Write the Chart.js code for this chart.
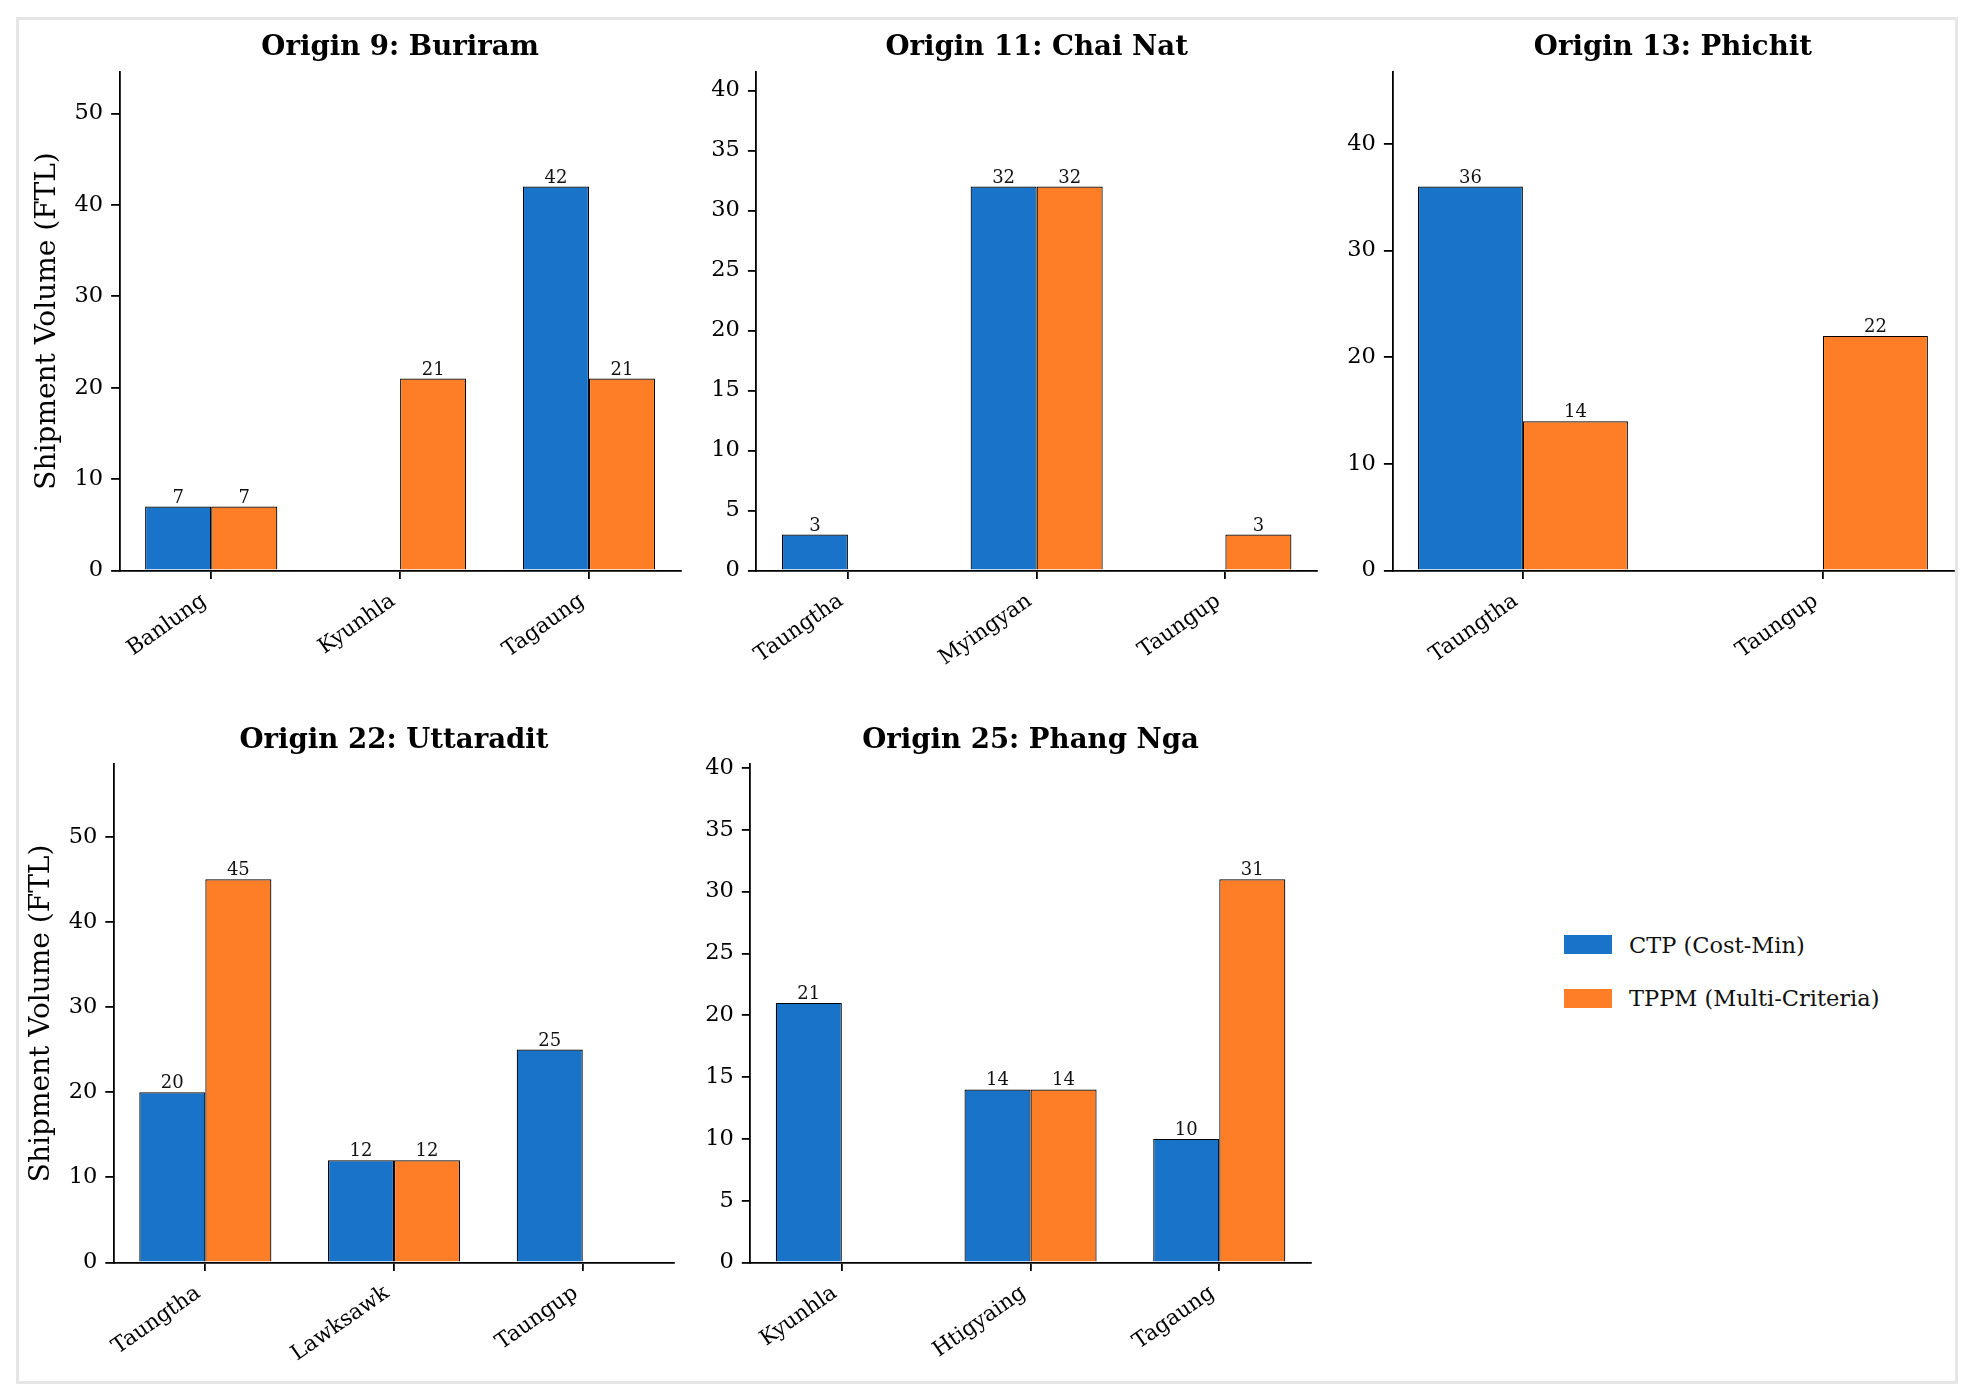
<!DOCTYPE html>
<html>
<head>
<meta charset="utf-8">
<script src="https://cdn.jsdelivr.net/npm/chart.js@4.4.1/dist/chart.umd.min.js"></script>
<style>
  body { margin: 0; background: #fff; }
  #page { position: relative; width: 1972px; height: 1399px; overflow: hidden; background: #fff; }
  #frame { position: absolute; left: 15.5px; top: 16.5px; width: 1942px; height: 1367px;
           border: 3.3px solid #e6e6e6; box-sizing: border-box; }
  canvas { position: absolute; }
  .leg { position: absolute; left: 1564.4px; height: 24px; display: flex; align-items: center;
         font: 22.5px 'DejaVu Serif', serif; color: #111; white-space: nowrap; }
  .leg .sw { display: inline-block; width: 48px; height: 19px; margin-right: 16.6px; }
</style>
</head>
<body>
<div id="page">
  <div id="frame"></div>
</div>
<script>
// Datos de cada origen
const panelTitles = ['Origin 9: Buriram', 'Origin 11: Chai Nat', 'Origin 13: Phichit',
                     'Origin 22: Uttaradit', 'Origin 25: Phang Nga'];
const destinations = [
  ['Banlung', 'Kyunhla', 'Tagaung'],
  ['Taungtha', 'Myingyan', 'Taungup'],
  ['Taungtha', 'Taungup'],
  ['Taungtha', 'Lawksawk', 'Taungup'],
  ['Kyunhla', 'Htigyaing', 'Tagaung']
];
const ctpValues  = [[7, 0, 42], [3, 32, 0], [36, 0], [20, 12, 25], [21, 14, 10]];
const tppmValues = [[7, 21, 21], [0, 32, 3], [14, 22], [45, 12, 0], [0, 14, 31]];
const yTickSteps = [10, 5, 10, 10, 5];
const seriesNames = ['CTP (Cost-Min)', 'TPPM (Multi-Criteria)'];
const seriesColors = ['#1873C9', '#FE7E27'];
const yAxisTitle = 'Shipment Volume (FTL)';

const FONT = "'DejaVu Serif', serif";

// Donde va cada eje en la página
const boxes = [
  { left: 119.6,  top: 71.4,  w: 561,   h: 499.1, yTitle: true },
  { left: 756.4,  top: 71.4,  w: 560.5, h: 499.1 },
  { left: 1392.4, top: 71.4,  w: 561,   h: 499.1 },
  { left: 113.8,  top: 764.3, w: 560.5, h: 498.2, yTitle: true },
  { left: 750.3,  top: 764.3, w: 560.5, h: 498.2 }
];

// Etiquetas encima de las barras (solo las que no son cero)
const valueLabels = {
  id: 'valueLabels',
  afterDatasetsDraw(chart) {
    const ctx = chart.ctx;
    ctx.save();
    ctx.font = '18px ' + FONT;
    ctx.fillStyle = '#111';
    ctx.textAlign = 'center';
    ctx.textBaseline = 'alphabetic';
    chart.data.datasets.forEach((ds, di) => {
      chart.getDatasetMeta(di).data.forEach((bar, i) => {
        const v = ds.data[i].y;
        if (v > 0) ctx.fillText(String(v), bar.x, bar.y - 4);
      });
    });
    ctx.restore();
  }
};

function makePanel(p) {
  const box = boxes[p];
  const cats = destinations[p];
  const n = cats.length;

  const wyWanted = box.yTitle ? 100 : 60;
  const cLeft = Math.round(box.left - wyWanted);
  const wy = box.left - cLeft;
  const cTop = Math.round(box.top - 40);
  const titleSpace = box.top - cTop;
  const cW = Math.round(wy + box.w + 20);
  const cH = Math.round(titleSpace + box.h + 130);
  const padRight = cW - wy - box.w;
  const xAxisH = cH - titleSpace - box.h;

  const canvas = document.createElement('canvas');
  canvas.width = cW;
  canvas.height = cH;
  canvas.style.left = cLeft + 'px';
  canvas.style.top = cTop + 'px';
  canvas.style.width = cW + 'px';
  canvas.style.height = cH + 'px';
  document.getElementById('page').appendChild(canvas);

  // márgenes tipo matplotlib: 5% alrededor de las barras
  const span = (n - 1) + 0.7;
  const xMin = -0.35 - 0.05 * span;
  const xMax = (n - 1) + 0.35 + 0.05 * span;
  const yMax = Math.max(...ctpValues[p], ...tppmValues[p]) * 1.3;

  const series = [ctpValues[p], tppmValues[p]];
  const titleSize = 27.6;

  new Chart(canvas, {
    type: 'bar',
    data: {
      datasets: series.map((vals, s) => ({
        label: seriesNames[s],
        data: vals.map((v, k) => ({ x: k, y: v })),
        backgroundColor: seriesColors[s],
        borderColor: '#000',
        borderWidth: 1.2,
        categoryPercentage: 0.7,
        barPercentage: 1
      }))
    },
    options: {
      responsive: false,
      animation: false,
      layout: { padding: { top: 0, left: 0, right: padRight, bottom: 0 } },
      plugins: {
        legend: { display: false },
        tooltip: { enabled: false },
        title: {
          display: true,
          fullSize: false,
          text: panelTitles[p],
          color: '#000',
          font: { family: FONT, size: titleSize, weight: 'bold', lineHeight: 1.2 },
          padding: { top: 0, bottom: titleSpace - titleSize * 1.2 }
        }
      },
      scales: {
        x: {
          type: 'linear',
          min: xMin,
          max: xMax,
          offset: false,
          grid: { display: true, offset: false, drawOnChartArea: false, drawTicks: true, tickLength: 8.5, color: '#000', lineWidth: 1.8 },
          border: { display: true, color: '#000', width: 1.8 },
          ticks: {
            stepSize: 1,
            includeBounds: false,
            autoSkip: false,
            minRotation: 35,
            maxRotation: 35,
            padding: 9.5,
            labelOffset: -7,
            color: '#000',
            font: { family: FONT, size: 21.5 },
            callback: v => (cats[v] !== undefined ? cats[v] : '')
          },
          afterFit: s => { s.height = xAxisH; }
        },
        y: {
          min: 0,
          max: yMax,
          grid: { display: true, offset: false, drawOnChartArea: false, drawTicks: true, tickLength: 8.5, color: '#000', lineWidth: 1.8 },
          border: { display: true, color: '#000', width: 1.8 },
          ticks: {
            stepSize: yTickSteps[p],
            includeBounds: false,
            padding: 8,
            color: '#000',
            font: { family: FONT, size: 22.5 }
          },
          title: {
            display: !!box.yTitle,
            text: yAxisTitle,
            color: '#000',
            font: { family: FONT, size: 28, lineHeight: 1.2 },
            padding: { top: wy - 72 - 16.8, bottom: 0 }
          },
          afterFit: s => { s.width = wy; }
        }
      }
    },
    plugins: [valueLabels]
  });
}

panelTitles.forEach((t, p) => makePanel(p));

// Leyenda
const legendTops = [932.7, 986.3];
seriesNames.forEach((name, s) => {
  const item = document.createElement('div');
  item.className = 'leg';
  item.style.top = legendTops[s] + 'px';
  item.innerHTML = `<span class="sw" style="background:${seriesColors[s]}"></span><span>${name}</span>`;
  document.getElementById('page').appendChild(item);
});
</script>
</body>
</html>
